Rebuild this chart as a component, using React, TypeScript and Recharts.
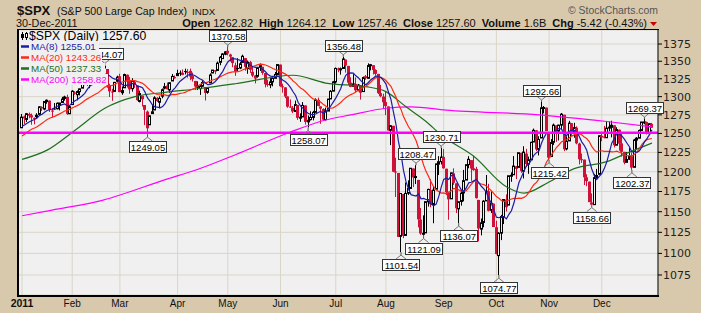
import React from 'react';
import {
  ComposedChart,
  Bar,
  Line,
  XAxis,
  YAxis,
  CartesianGrid,
  ReferenceLine,
  ReferenceDot,
} from 'recharts';

// last 19 closes of Dec 2010, needed for the MA(8) / MA(20) at the start of 2011
const priorCloses = [
  1223.12, 1223.75, 1228.28, 1233.0, 1240.4, 1240.46, 1241.59, 1235.23, 1242.87, 1243.91,
  1247.08, 1254.6, 1258.84, 1256.77, 1257.54, 1258.51, 1259.78, 1257.88, 1257.64,
];

// daily OHLC, one line per month (Jan..Dec 2011)
const opens = [
  1257.62, 1272.95, 1268.78, 1276.29, 1274.41, 1270.84, 1272.58, 1275.65, 1285.78, 1282.9, 1293.22, 1294.52, 1280.85, 1283.63, 1283.29, 1288.17, 1291.97, 1297.51, 1299.63, 1276.5,
  1289.14, 1305.91, 1302.77, 1307.01, 1311.85, 1318.76, 1322.48, 1318.13, 1318.66, 1328.73, 1330.43, 1329.51, 1334.37, 1340.38, 1338.91, 1315.44, 1307.09, 1307.34, 1321.61,
  1328.64, 1305.47, 1312.37, 1330.73, 1322.72, 1311.05, 1319.92, 1315.72, 1293.43, 1301.19, 1288.46, 1279.46, 1261.61, 1276.71, 1281.65, 1298.29, 1292.19, 1300.61, 1311.8, 1315.45, 1309.37, 1321.89, 1327.44,
  1329.48, 1333.56, 1332.03, 1335.94, 1334.82, 1336.16, 1329.01, 1321.96, 1314.03, 1311.13, 1314.54, 1313.35, 1305.99, 1319.12, 1333.23, 1337.14, 1336.75, 1348.43, 1353.86, 1360.14,
  1365.21, 1359.76, 1355.9, 1344.16, 1340.24, 1340.2, 1348.34, 1354.51, 1339.39, 1348.69, 1334.77, 1326.1, 1328.54, 1342.4, 1342.0, 1333.07, 1317.7, 1316.36, 1320.64, 1325.69, 1331.1,
  1345.2, 1314.55, 1312.94, 1300.26, 1286.31, 1284.63, 1279.63, 1288.6, 1271.31, 1272.22, 1287.87, 1265.53, 1268.58, 1271.5, 1278.4, 1295.48, 1286.6, 1283.04, 1268.44, 1280.21, 1296.85, 1307.64,
  1320.64, 1339.59, 1337.56, 1339.62, 1352.39, 1343.31, 1319.61, 1314.45, 1317.74, 1308.87, 1315.94, 1307.07, 1328.66, 1325.65, 1343.8, 1344.32, 1337.39, 1331.91, 1304.84, 1300.12,
  1292.59, 1286.56, 1254.25, 1260.23, 1200.28, 1198.48, 1120.23, 1171.77, 1121.3, 1172.87, 1178.86, 1204.22, 1192.89, 1189.62, 1140.47, 1123.55, 1124.36, 1162.16, 1176.69, 1158.85, 1177.91, 1209.76, 1213.0,
  1219.12, 1203.9, 1173.97, 1165.85, 1197.98, 1185.37, 1153.5, 1162.59, 1173.32, 1189.44, 1209.21, 1214.99, 1204.5, 1203.63, 1164.55, 1128.82, 1136.91, 1163.32, 1175.39, 1151.74, 1159.93,
  1131.21, 1097.42, 1124.03, 1144.11, 1165.03, 1158.15, 1194.6, 1196.19, 1206.96, 1205.65, 1224.47, 1200.75, 1223.46, 1209.92, 1215.39, 1238.72, 1254.19, 1229.17, 1243.97, 1284.39, 1284.96,
  1251.0, 1219.62, 1238.25, 1260.82, 1253.21, 1261.12, 1275.18, 1229.59, 1240.12, 1263.85, 1251.7, 1257.81, 1236.56, 1216.19, 1215.62, 1192.98, 1187.48, 1161.41, 1158.67, 1192.56, 1196.72,
  1246.91, 1246.03, 1244.33, 1257.19, 1258.14, 1260.87, 1234.48, 1255.05, 1236.83, 1225.73, 1212.12, 1216.09, 1219.74, 1205.72, 1241.25, 1243.72, 1254.0, 1265.02, 1265.38, 1249.75, 1262.82,
];

const highs = [
  1276.17, 1274.12, 1277.63, 1278.17, 1276.83, 1271.52, 1277.25, 1286.87, 1286.7, 1293.24, 1296.06, 1294.6, 1283.35, 1291.21, 1291.93, 1291.26, 1299.74, 1301.29, 1302.67, 1287.17,
  1308.86, 1307.61, 1308.6, 1311.0, 1322.85, 1324.87, 1324.54, 1322.78, 1330.79, 1332.96, 1330.43, 1337.61, 1341.5, 1344.07, 1338.91, 1317.91, 1310.91, 1320.61, 1329.38,
  1332.09, 1314.19, 1332.28, 1331.08, 1327.68, 1325.74, 1323.21, 1315.72, 1308.35, 1301.19, 1288.46, 1280.91, 1274.13, 1288.88, 1300.58, 1299.35, 1300.51, 1311.34, 1319.18, 1319.74, 1319.45, 1331.74, 1329.77,
  1337.85, 1336.74, 1338.21, 1339.38, 1338.8, 1339.46, 1333.77, 1321.96, 1321.35, 1316.79, 1322.88, 1313.35, 1312.7, 1332.66, 1337.49, 1337.55, 1349.55, 1357.49, 1361.71, 1364.56,
  1370.58, 1360.84, 1355.9, 1348.0, 1354.36, 1349.44, 1359.44, 1354.51, 1351.05, 1350.47, 1343.33, 1330.42, 1341.82, 1346.82, 1342.0, 1333.07, 1323.72, 1325.86, 1328.51, 1334.62, 1345.2,
  1345.2, 1318.03, 1312.94, 1300.26, 1296.22, 1287.04, 1294.54, 1288.6, 1277.04, 1292.5, 1287.87, 1274.11, 1279.82, 1280.42, 1297.62, 1298.61, 1286.6, 1283.93, 1284.91, 1296.8, 1309.21, 1321.97,
  1341.01, 1340.89, 1340.94, 1356.48, 1352.39, 1343.31, 1327.17, 1331.48, 1326.88, 1317.7, 1315.94, 1328.14, 1330.43, 1347.0, 1346.1, 1344.32, 1338.51, 1331.91, 1316.32, 1304.16,
  1307.38, 1286.56, 1261.2, 1260.23, 1218.11, 1198.48, 1172.88, 1171.77, 1186.29, 1189.04, 1204.49, 1204.22, 1208.47, 1189.62, 1154.54, 1145.49, 1162.35, 1178.56, 1190.68, 1181.23, 1210.28, 1220.1, 1230.71,
  1229.29, 1203.9, 1173.97, 1198.62, 1204.4, 1185.37, 1162.52, 1176.41, 1202.38, 1209.11, 1220.06, 1214.99, 1220.39, 1206.3, 1164.55, 1141.72, 1164.19, 1195.86, 1184.71, 1175.09, 1159.93,
  1138.99, 1125.12, 1146.07, 1165.55, 1171.4, 1194.91, 1199.24, 1220.25, 1207.46, 1224.61, 1224.47, 1233.1, 1229.64, 1219.53, 1239.03, 1256.55, 1254.19, 1246.28, 1292.66, 1287.08, 1284.96,
  1251.0, 1242.48, 1263.21, 1260.82, 1261.7, 1277.55, 1275.18, 1246.22, 1266.98, 1263.85, 1264.25, 1259.61, 1237.73, 1223.51, 1215.62, 1196.81, 1187.48, 1172.66, 1197.35, 1203.67, 1247.11,
  1251.09, 1260.08, 1266.73, 1266.03, 1267.06, 1260.87, 1258.25, 1255.05, 1249.86, 1225.73, 1225.6, 1231.04, 1224.57, 1242.82, 1245.09, 1255.22, 1265.42, 1269.37, 1265.85, 1263.54, 1264.12,
];

const lows = [
  1257.62, 1262.66, 1265.36, 1270.43, 1261.7, 1262.18, 1269.62, 1275.65, 1280.47, 1281.24, 1290.16, 1278.92, 1271.26, 1282.07, 1282.47, 1281.07, 1291.97, 1294.41, 1275.1, 1276.5,
  1289.14, 1302.62, 1294.83, 1301.67, 1311.85, 1316.03, 1314.89, 1311.74, 1316.08, 1326.9, 1324.61, 1329.51, 1331.0, 1338.12, 1312.33, 1299.55, 1294.26, 1307.34, 1320.55,
  1306.14, 1302.58, 1312.37, 1312.59, 1303.99, 1306.86, 1312.27, 1294.21, 1291.99, 1286.37, 1261.12, 1249.05, 1261.61, 1276.18, 1281.65, 1292.7, 1284.05, 1297.74, 1310.15, 1310.19, 1305.26, 1321.89, 1325.03,
  1328.89, 1329.1, 1330.03, 1331.09, 1326.56, 1322.94, 1321.06, 1309.51, 1309.19, 1302.42, 1313.68, 1294.7, 1303.97, 1319.12, 1332.83, 1331.47, 1336.75, 1344.25, 1353.6, 1358.69,
  1358.59, 1349.52, 1341.5, 1329.17, 1335.58, 1338.64, 1348.34, 1336.36, 1332.03, 1333.36, 1327.32, 1318.51, 1326.59, 1336.12, 1330.67, 1312.88, 1313.87, 1311.8, 1314.41, 1325.69, 1331.1,
  1313.71, 1305.61, 1297.9, 1284.72, 1284.74, 1277.42, 1279.63, 1268.28, 1265.64, 1272.22, 1261.9, 1258.07, 1267.4, 1267.56, 1278.4, 1286.79, 1262.87, 1267.24, 1267.53, 1280.21, 1296.85, 1307.64,
  1318.18, 1334.3, 1330.92, 1339.62, 1333.71, 1316.42, 1313.33, 1314.45, 1306.51, 1307.35, 1295.92, 1307.07, 1323.65, 1325.65, 1336.95, 1331.09, 1329.59, 1303.49, 1299.16, 1282.86,
  1274.73, 1254.03, 1234.56, 1199.54, 1168.09, 1119.28, 1101.54, 1118.01, 1121.3, 1170.74, 1178.86, 1180.53, 1184.36, 1131.03, 1122.05, 1121.09, 1124.36, 1156.3, 1155.47, 1135.91, 1177.91, 1195.77, 1209.35,
  1203.85, 1170.56, 1140.13, 1165.85, 1183.34, 1148.37, 1136.07, 1157.44, 1162.73, 1189.44, 1204.46, 1188.36, 1201.29, 1166.21, 1114.22, 1121.36, 1131.07, 1163.32, 1150.4, 1148.37, 1131.34,
  1098.92, 1074.77, 1115.68, 1134.95, 1150.26, 1158.15, 1187.3, 1196.19, 1190.58, 1205.65, 1198.55, 1191.48, 1206.31, 1197.34, 1215.39, 1238.72, 1226.79, 1221.06, 1243.97, 1277.01, 1253.16,
  1215.42, 1219.62, 1234.81, 1238.92, 1240.75, 1254.99, 1226.64, 1227.7, 1240.12, 1246.68, 1244.34, 1235.67, 1209.43, 1211.36, 1183.16, 1181.65, 1161.79, 1158.66, 1158.67, 1191.8, 1196.72,
  1239.73, 1243.35, 1244.33, 1253.03, 1244.8, 1231.47, 1234.48, 1227.25, 1219.43, 1209.47, 1212.12, 1215.2, 1202.37, 1205.72, 1229.51, 1243.72, 1254.0, 1262.3, 1248.64, 1249.75, 1257.46,
];

const closes = [
  1271.87, 1270.2, 1276.56, 1273.85, 1271.5, 1269.75, 1274.48, 1285.96, 1283.76, 1293.24, 1295.02, 1281.92, 1280.26, 1283.35, 1290.84, 1291.18, 1296.63, 1299.54, 1276.34, 1286.12,
  1307.59, 1304.03, 1307.1, 1310.87, 1319.05, 1324.57, 1320.88, 1321.87, 1329.15, 1332.32, 1328.01, 1336.32, 1340.43, 1343.01, 1315.44, 1307.4, 1306.1, 1319.88, 1327.22,
  1306.33, 1308.44, 1330.97, 1321.15, 1310.13, 1321.82, 1320.02, 1295.11, 1304.28, 1296.39, 1281.87, 1256.88, 1273.72, 1279.21, 1298.38, 1293.77, 1297.54, 1309.66, 1313.8, 1310.19, 1319.44, 1328.26, 1325.83,
  1332.41, 1332.87, 1332.63, 1335.54, 1333.51, 1328.17, 1324.46, 1314.16, 1314.41, 1314.52, 1319.68, 1305.14, 1312.62, 1330.36, 1337.38, 1335.25, 1347.24, 1355.66, 1360.48, 1363.61,
  1361.22, 1356.62, 1347.32, 1335.1, 1340.2, 1346.29, 1357.16, 1342.08, 1348.65, 1337.77, 1329.47, 1328.98, 1340.68, 1343.6, 1333.27, 1317.37, 1316.28, 1320.47, 1325.69, 1331.1, 1345.2,
  1314.55, 1312.94, 1300.16, 1286.17, 1284.94, 1279.56, 1289.0, 1270.98, 1271.83, 1287.87, 1265.42, 1267.64, 1271.5, 1278.36, 1295.52, 1287.14, 1283.5, 1268.45, 1280.1, 1296.67, 1307.41, 1320.64,
  1339.67, 1337.88, 1339.22, 1353.22, 1343.8, 1319.49, 1313.64, 1317.72, 1308.87, 1316.14, 1305.44, 1326.73, 1325.84, 1343.8, 1345.02, 1337.43, 1331.94, 1304.89, 1300.67, 1292.28,
  1286.94, 1254.05, 1260.34, 1200.07, 1199.38, 1119.46, 1172.53, 1120.76, 1172.64, 1178.81, 1204.49, 1192.76, 1193.89, 1140.65, 1123.53, 1123.82, 1162.35, 1177.6, 1159.27, 1176.8, 1210.08, 1212.92, 1218.89,
  1204.42, 1173.97, 1165.24, 1198.62, 1185.9, 1154.23, 1162.27, 1172.87, 1188.68, 1209.11, 1216.01, 1204.09, 1202.09, 1166.76, 1129.56, 1136.43, 1162.95, 1175.38, 1151.06, 1160.4, 1131.42,
  1099.23, 1123.95, 1144.03, 1164.97, 1155.46, 1194.89, 1195.54, 1207.25, 1203.66, 1224.58, 1200.86, 1225.38, 1209.88, 1215.39, 1238.25, 1254.19, 1229.05, 1242.0, 1284.59, 1285.09, 1253.3,
  1218.28, 1237.9, 1261.15, 1253.23, 1261.12, 1275.92, 1229.1, 1239.7, 1263.85, 1251.78, 1257.81, 1236.91, 1216.13, 1215.65, 1192.98, 1188.04, 1161.79, 1158.67, 1192.55, 1195.19, 1246.96,
  1244.58, 1244.28, 1257.08, 1258.47, 1261.01, 1234.35, 1255.19, 1236.47, 1225.73, 1211.82, 1215.75, 1219.66, 1205.35, 1241.3, 1243.72, 1254.0, 1265.33, 1265.43, 1249.64, 1263.02, 1257.6,
];

const ma50Days = [0, 10, 21, 33, 45, 57, 70, 85, 108, 121, 137, 145, 153, 161, 167, 180, 193, 200, 210, 220, 233, 241, 251];
const ma50Values = [1216, 1228, 1254, 1284, 1300, 1306, 1311, 1318, 1330, 1319, 1314, 1307, 1286, 1266, 1248, 1220, 1181, 1173, 1187, 1204, 1213, 1224, 1237.33];
const ma200Days = [0, 12, 32, 58, 69, 85, 107, 121, 131, 145, 155, 169, 206, 233, 251];
const ma200Values = [1145, 1152, 1164, 1191, 1202, 1222, 1252, 1268, 1275, 1284, 1286, 1281.5, 1275, 1266, 1258.82];

// trading-day index where each month starts
const monthTicks = [0, 20, 39, 62, 82, 103, 125, 145, 168, 189, 210, 231];
const monthLabels = ['2011', 'Feb', 'Mar', 'Apr', 'May', 'Jun', 'Jul', 'Aug', 'Sep', 'Oct', 'Nov', 'Dec'];
const priceTicks = [1075, 1100, 1125, 1150, 1175, 1200, 1225, 1250, 1275, 1300, 1325, 1350, 1375];

// annotated swing points
const pivotDays = [33, 50, 82, 114, 128, 151, 157, 160, 167, 174, 190, 207, 210, 227, 243, 248];
const pivotValues = [1344.07, 1249.05, 1370.58, 1258.07, 1356.48, 1101.54, 1208.47, 1121.09, 1230.71, 1136.07, 1074.77, 1292.66, 1215.42, 1158.66, 1202.37, 1269.37];
const pivotSides = ['H', 'L', 'H', 'L', 'H', 'L', 'H', 'L', 'H', 'L', 'L', 'H', 'L', 'L', 'L', 'H'];

const levelLine = 1251;

const BG = '#d8c9ad';
const PLOT_BG = '#f0f0f0';
const RED = '#cf1038';
const FONT = '"Liberation Sans", Arial, sans-serif';

const allCloses = [...priorCloses, ...closes];
const sma = (n: number, i: number) => {
  let s = 0;
  for (let k = 0; k < n; k++) s += allCloses[i + priorCloses.length - k];
  return s / n;
};

const data = closes.map((c, i) => ({
  i,
  o: opens[i],
  h: highs[i],
  l: lows[i],
  c,
  prev: allCloses[i + priorCloses.length - 1],
  range: [lows[i], highs[i]],
  ma8: sma(8, i),
  ma20: sma(20, i),
}));

const ma50Data = ma50Days.map((i, k) => ({ i, v: ma50Values[k] }));
const ma200Data = ma200Days.map((i, k) => ({ i, v: ma200Values[k] }));

function Candle(props: any) {
  const { x, y, width, height, payload } = props;
  if (!payload || height == null) return null;
  const lh = Math.log(payload.h);
  const ll = Math.log(payload.l);
  const py = (v: number) => y + (height * (lh - Math.log(v))) / (lh - ll || 1);
  const cx = Math.floor(x + width / 2) + 0.5;
  const color = payload.c < payload.prev ? RED : '#000';
  const yo = py(payload.o);
  const yc = py(payload.c);
  const top = Math.min(yo, yc);
  const h = Math.max(1, Math.abs(yo - yc));
  const hollow = payload.c >= payload.o;
  return (
    <g>
      <line x1={cx} x2={cx} y1={y} y2={y + height} stroke={color} strokeWidth={1} />
      {hollow ? (
        <rect x={cx - 1} y={top} width={2} height={h} fill={PLOT_BG} stroke={color} strokeWidth={1} />
      ) : (
        <rect x={cx - 1.5} y={top} width={3} height={h} fill={color} />
      )}
    </g>
  );
}

function pivotShape(side: string, value: number) {
  return (props: any) => {
    const { cx, cy } = props;
    const w = 37;
    const h = 11;
    const high = side === 'H';
    const boxY = high ? cy - 6 - h : cy + 7;
    const tipY = high ? cy - 2 : cy + 3;
    const edge = high ? boxY + h : boxY;
    return (
      <g>
        <line x1={cx} x2={cx} y1={cy} y2={tipY} stroke="#555" strokeWidth={1} />
        <polyline
          points={`${cx - 5},${edge} ${cx},${tipY} ${cx + 5},${edge}`}
          fill="none"
          stroke="#777"
          strokeWidth={1}
        />
        <rect x={Math.round(cx - w / 2) + 0.5} y={Math.round(boxY) + 0.5} width={w} height={h} fill="#fff" stroke="#333" strokeWidth={1} />
        <text x={cx + 0.5} y={Math.round(boxY) + 9.5} textAnchor="middle" fontSize={9.5} fontFamily={FONT} fill="#000">
          {value.toFixed(2)}
        </text>
      </g>
    );
  };
}

function MonthTick(props: any) {
  const { x, y, payload } = props;
  const k = monthTicks.indexOf(payload.value);
  const first = k === 0;
  return (
    <text
      x={x}
      y={y + 12}
      textAnchor="middle"
      fontSize={first ? 10.5 : 10}
      fontWeight={first ? 'bold' : 'normal'}
      fontFamily={FONT}
      fill="#111"
    >
      {monthLabels[k]}
    </text>
  );
}

const legendRows = [
  { label: 'MA(8) 1255.01', color: '#1c1ca6', y: 46.5, w: 80 },
  { label: 'MA(20) 1243.26', color: '#ff2814', y: 57.5, w: 83 },
  { label: 'MA(50) 1237.33', color: '#1f6e1f', y: 68.5, w: 86 },
  { label: 'MA(200) 1258.82', color: '#ff00ff', y: 79.5, w: 89 },
];

const stats = [
  ['Open', '1262.82'],
  ['High', '1264.12'],
  ['Low', '1257.46'],
  ['Close', '1257.60'],
  ['Volume', '1.6B'],
  ['Chg', '-5.42 (-0.43%)'],
];

export default function App() {
  return (
    <div style={{ position: 'absolute', left: 0, top: 0, width: 701, height: 313, background: BG }}>
      <ComposedChart width={701} height={313} data={data} margin={{ top: 30, right: 0, bottom: 0, left: 18 }}>
        <CartesianGrid stroke="#d9d6c6" fill={PLOT_BG} />
        <XAxis
          dataKey="i"
          type="number"
          domain={[-1.6, 253.4]}
          ticks={monthTicks}
          tick={<MonthTick />}
          tickLine={false}
          axisLine={false}
          tickSize={0}
          tickMargin={0}
          height={18}
          interval={0}
          allowDataOverflow
        />
        <YAxis
          orientation="right"
          type="number"
          scale="log"
          domain={[1052.3, 1395.7]}
          ticks={priceTicks}
          allowDataOverflow
          width={43}
          tickSize={4}
          tickMargin={1}
          axisLine={{ stroke: '#000' }}
          tickLine={{ stroke: '#000' }}
          tick={{ fill: '#222', fontSize: 11, fontFamily: '"DejaVu Sans", Verdana, sans-serif' }}
          interval={0}
        />
        <Bar dataKey="range" barSize={3} shape={<Candle />} isAnimationActive={false} />
        <Line data={ma200Data} dataKey="v" type="monotone" stroke="#ff00ff" strokeWidth={1.2} dot={false} isAnimationActive={false} />
        <Line data={ma50Data} dataKey="v" type="monotone" stroke="#1f6e1f" strokeWidth={1.2} dot={false} isAnimationActive={false} />
        <Line dataKey="ma20" type="linear" stroke="#ff2814" strokeWidth={1.2} dot={false} isAnimationActive={false} />
        <Line dataKey="ma8" type="linear" stroke="#1c1ca6" strokeWidth={1.2} dot={false} isAnimationActive={false} />
        <ReferenceLine y={levelLine} stroke="#ff00ff" strokeWidth={2.5} />
        {pivotDays.map((d, k) => (
          <ReferenceDot
            key={d}
            x={d}
            y={pivotValues[k]}
            r={0}
            shape={pivotShape(pivotSides[k], pivotValues[k])}
          />
        ))}
      </ComposedChart>

      <svg width={701} height={313} style={{ position: 'absolute', left: 0, top: 0, pointerEvents: 'none' }}>
        {/* plot frame */}
        <line x1={17} x2={659} y1={29.5} y2={29.5} stroke="#000" strokeWidth={1} />
        <rect x={17} y={29} width={2} height={268} fill="#000" />
        <rect x={17} y={295} width={642} height={2} fill="#000" />

        {/* title block */}
        <text x={17} y={15} fontSize={13} fontWeight="bold" fontFamily={FONT} fill="#111">$SPX</text>
        <text x={57} y={14.5} fontSize={10.6} fontFamily={FONT} fill="#111">(S&amp;P 500 Large Cap Index)</text>
        <text x={192} y={14.5} fontSize={9.8} fontFamily={FONT} fill="#111">INDX</text>
        <text x={16} y={26.5} fontSize={10.8} fontFamily={FONT} fill="#111">30-Dec-2011</text>
        <text x={647} y={26.5} textAnchor="end" fontSize={11} fontFamily={FONT} fill="#111">
          {stats.map(([k, v], n) => (
            <React.Fragment key={k}>
              <tspan fontWeight="bold" dx={n === 0 ? 0 : 6}>{k}</tspan>
              <tspan dx={3}>{v}</tspan>
            </React.Fragment>
          ))}
        </text>
        <polygon points="650,22 657,22 653.5,26" fill="#cc0000" />
        <text x={568} y={14} fontSize={10.5} fontFamily={FONT} fill="#555" textLength={90} lengthAdjust="spacingAndGlyphs">
          © StockCharts.com
        </text>

        {/* legend */}
        <rect x={19} y={31} width={134} height={11} fill={PLOT_BG} />
        <line x1={22.5} x2={22.5} y1={32} y2={40} stroke="#000" />
        <rect x={21} y={34} width={3} height={4} fill="#000" />
        <line x1={26.5} x2={26.5} y1={32} y2={40} stroke="#000" />
        <rect x={25.5} y={33.5} width={2} height={4} fill="#fff" stroke="#000" />
        <text x={29} y={39.5} fontSize={12.2} fontFamily={FONT} fill="#000">$SPX (Daily) 1257.60</text>
        {legendRows.map((r) => (
          <g key={r.label}>
            <rect x={19} y={r.y - 5.5} width={r.w} height={11} fill={PLOT_BG} />
            <line x1={21} x2={29} y1={r.y} y2={r.y} stroke={r.color} strokeWidth={2.5} />
            <text x={31} y={r.y + 3.7} fontSize={9.8} fontFamily={FONT} fill={r.color}>{r.label}</text>
          </g>
        ))}
      </svg>
    </div>
  );
}
